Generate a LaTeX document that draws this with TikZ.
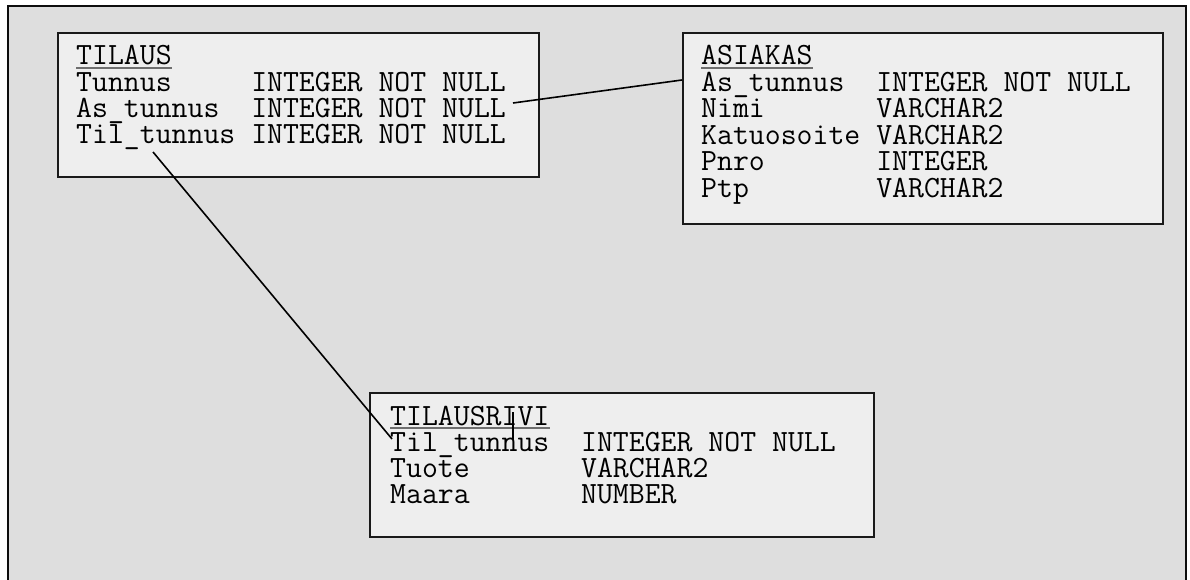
\documentclass[tikz,border=0pt]{standalone}
\usepackage{fontspec}
\usetikzlibrary{calc}
\definecolor{framefill}{HTML}{DEDEDE}
\definecolor{boxfill}{HTML}{EEEEEE}
\definecolor{ulgray}{HTML}{6E6E6E}
\tikzset{
  tblbox/.style={draw=black!90, line width=2pt, fill=boxfill, inner sep=0pt, anchor=north west},
  row/.style={anchor=base west, inner sep=0pt, font=\ttfamily\fontsize{30.9}{30}\selectfont},
  ul/.style={draw=ulgray, line width=2pt},
  link/.style={draw=black, line width=1.6pt}
}
\begin{document}
\begin{tikzpicture}[x=1pt,y=-1pt]
\clip (0,0) rectangle (1190,580);
\fill[white] (0,0) rectangle (1190,580);
\draw[fill=framefill, line width=2.6pt, draw=black!95] (8,6) rectangle (1186,600);

% TILAUS
\node[tblbox, minimum width=481pt, minimum height=144pt] (tilausbox) at (57,32) {};
\node[row] (tilh) at (76,65) {TILAUS};
\node[row] (til1) at (76,91.3) {Tunnus~~~~~INTEGER~NOT~NULL};
\node[row] (til2) at (76,117.6) {As\_tunnus~~INTEGER~NOT~NULL};
\node[row] (til3) at (76,143.9) {Til\_tunnus~INTEGER~NOT~NULL};
\draw[ul] ([yshift=-3pt]tilh.base west) -- ([yshift=-3pt]tilh.base east);

% ASIAKAS
\node[tblbox, minimum width=480pt, minimum height=191pt] (asiakasbox) at (682,32) {};
\node[row] (ash) at (701,65) {ASIAKAS};
\node[row] (as1) at (701,91.4) {As\_tunnus~~INTEGER~NOT~NULL};
\node[row] (as2) at (701,117.8) {Nimi~~~~~~~VARCHAR2};
\node[row] (as3) at (701,144.2) {Katuosoite~VARCHAR2};
\node[row] (as4) at (701,170.6) {Pnro~~~~~~~INTEGER};
\node[row] (as5) at (701,197) {Ptp~~~~~~~~VARCHAR2};
\draw[ul] ([yshift=-3pt]ash.base west) -- ([yshift=-3pt]ash.base east);

% TILAUSRIVI
\node[tblbox, minimum width=504pt, minimum height=144pt] (rivibox) at (369,392) {};
\node[row] (rih) at (390,425) {TILAUSRIVI};
\node[row] (ri1) at (390,451.3) {Til\_tunnus~~INTEGER~NOT~NULL};
\node[row] (ri2) at (390,477.6) {Tuote~~~~~~~VARCHAR2};
\node[row] (ri3) at (390,503.9) {Maara~~~~~~~NUMBER};
\draw[ul] ([yshift=-3pt]rih.base west) -- ([yshift=-3pt]rih.base east);

% connectors
\coordinate (c1a) at (513,103);
\coordinate (c2a) at (153,152);
\coordinate (c2b) at (392,439);
\draw[link] (c1a) -- (asiakasbox.west |- 0,80);
\draw[link] (c2a) -- (c2b);
\coordinate (tk1) at (513,412);
\coordinate (tk2) at (513,440);
\draw[link] (tk1) -- (tk2);
\end{tikzpicture}
\end{document}
